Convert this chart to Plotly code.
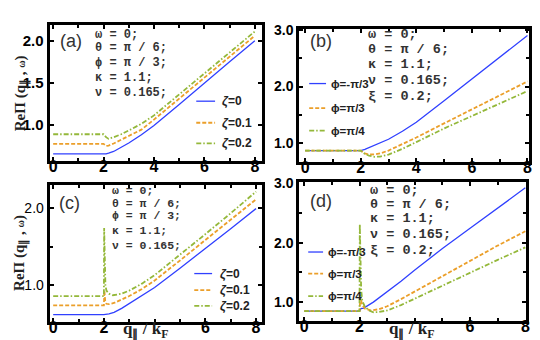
import plotly.graph_objects as go

W, H = 540, 340

# ---- data ----
# (a) zeta = 0, 0.1, 0.2
xa = [0, 1, 2, 2.1, 2.2, 2.4, 2.7, 3, 3.5, 4, 5, 6, 7, 8]
ya_z0 = [0.65, 0.65, 0.65, 0.652, 0.66, 0.68, 0.73, 0.78, 0.88, 0.99, 1.24, 1.50, 1.75, 2.00]
ya_z1 = [0.77, 0.77, 0.77, 0.745, 0.75, 0.775, 0.82, 0.86, 0.94, 1.06, 1.31, 1.56, 1.81, 2.06]
ya_z2 = [0.885, 0.885, 0.885, 0.85, 0.83, 0.85, 0.885, 0.93, 1.01, 1.11, 1.36, 1.61, 1.86, 2.11]

# (b) phi = -pi/3, pi/3, pi/4
xb = [0, 1, 2, 2.15, 2.3, 2.5, 2.7, 3, 3.5, 4, 5, 6, 7, 8]
yb_m3 = [0.87, 0.87, 0.87, 0.89, 0.92, 0.96, 1.00, 1.07, 1.21, 1.37, 1.75, 2.13, 2.52, 2.90]
yb_p3 = [0.87, 0.87, 0.87, 0.82, 0.80, 0.805, 0.82, 0.87, 0.98, 1.10, 1.35, 1.60, 1.85, 2.09]
yb_p4 = [0.87, 0.87, 0.87, 0.81, 0.78, 0.76, 0.765, 0.80, 0.90, 1.02, 1.26, 1.48, 1.70, 1.92]

# (c) zeta = 0, 0.1, 0.2
xc_z0 = [0, 2, 2.2, 2.4, 2.7, 3, 3.5, 4, 5, 6, 7, 8]
yc_z0 = [0.62, 0.62, 0.63, 0.65, 0.70, 0.76, 0.86, 0.97, 1.22, 1.47, 1.73, 1.99]
xc_z1 = [0, 2, 2.02, 2.05, 2.1, 2.2, 2.4, 2.7, 3, 3.5, 4, 5, 6, 7, 8]
yc_z1 = [0.74, 0.74, 0.93, 0.80, 0.76, 0.755, 0.77, 0.81, 0.86, 0.95, 1.06, 1.32, 1.58, 1.85, 2.11]
xc_z2 = [0, 2, 2.01, 2.03, 2.06, 2.1, 2.2, 2.35, 2.5, 2.7, 3, 3.5, 4, 5, 6, 7, 8]
yc_z2 = [0.86, 0.86, 1.74, 1.2, 1.0, 0.93, 0.89, 0.87, 0.875, 0.89, 0.93, 1.02, 1.13, 1.39, 1.66, 1.93, 2.21]

# (d) phi = -pi/3, pi/3, pi/4
xd_m3 = [0, 2, 2.05, 2.15, 2.5, 3, 3.5, 4, 5, 6, 7, 8]
yd_m3 = [0.85, 0.85, 0.89, 0.90, 1.0, 1.17, 1.35, 1.54, 1.90, 2.24, 2.58, 2.92]
xd_p3 = [0, 2, 2.03, 2.1, 2.2, 2.4, 2.7, 3, 3.5, 4, 5, 6, 7, 8]
yd_p3 = [0.85, 0.85, 1.08, 0.95, 0.89, 0.86, 0.88, 0.93, 1.05, 1.18, 1.44, 1.70, 1.95, 2.19]
xd_p4 = [0, 2, 2.01, 2.03, 2.06, 2.1, 2.2, 2.35, 2.5, 2.7, 3, 3.5, 4, 5, 6, 7, 8]
yd_p4 = [0.85, 0.85, 2.31, 1.6, 1.2, 1.02, 0.92, 0.86, 0.83, 0.835, 0.86, 0.95, 1.06, 1.28, 1.49, 1.71, 1.92]

zeta_labels = ['<i>ζ</i>=0', '<i>ζ</i>=0.1', '<i>ζ</i>=0.2']
phi_labels = ['ϕ=-π/3', 'ϕ=π/3', 'ϕ=π/4']
params_phi = ['ω = 0;', 'θ = π / 6;', 'ϕ = π / 3;', 'κ = 1.1;', 'ν = 0.165;']
params_xi = ['ω = 0;', 'θ = π / 6;', 'κ = 1.1;', 'ν = 0.165;', 'ξ = 0.2;']

BLUE, ORANGE, GREEN = '#3040ff', '#eb9f2a', '#94b83a'
STYLES = [dict(color=BLUE, width=1.3),
          dict(color=ORANGE, width=1.8, dash='4px,2px'),
          dict(color=GREEN, width=1.8, dash='5px,2px,1.5px,2px')]


def px(x):
    return x / W


def py(y):
    return 1 - y / H


fig = go.Figure()

panels = [
    ('', [(xa, ya_z0), (xa, ya_z1), (xa, ya_z2)]),
    ('2', [(xb, yb_m3), (xb, yb_p3), (xb, yb_p4)]),
    ('3', [(xc_z0, yc_z0), (xc_z1, yc_z1), (xc_z2, yc_z2)]),
    ('4', [(xd_m3, yd_m3), (xd_p3, yd_p3), (xd_p4, yd_p4)]),
]
for sfx, curves in panels:
    for (xs, ys), st in zip(curves, STYLES):
        fig.add_trace(go.Scatter(x=xs, y=ys, mode='lines', line=st,
                                 xaxis='x' + sfx, yaxis='y' + sfx,
                                 showlegend=False, hoverinfo='skip'))

# frame boxes (left, right, top, bottom in pixels) and ranges
boxes = {
    '': (41, 255, 10, 149, [-0.14, 8.27], [0.567, 2.19]),
    '2': (293, 525, 14, 150, [-0.21, 8.06], [0.67, 3.02]),
    '3': (41, 255, 174, 313, [-0.14, 8.22], [0.53, 2.29]),
    '4': (293, 522, 171, 312, [-0.18, 8.03], [0.69, 3.01]),
}

tickfont_b = dict(family='Liberation Sans', size=15, color='black', weight='bold')
minor_tk = dict(ticks='inside', ticklen=3, tickwidth=2, tickcolor='black')
layout = dict(width=W, height=H, margin=dict(l=0, r=0, t=0, b=0),
              paper_bgcolor='white', plot_bgcolor='white')

for sfx, (l, r, t, b, xr, yr) in boxes.items():
    bottom_row = sfx in ('3', '4')
    xax = dict(domain=[px(l), px(r)], range=xr, anchor='y' + sfx,
               showline=True, linewidth=3, linecolor='black', mirror='allticks',
               showgrid=False, zeroline=False,
               ticks='inside', ticklen=4, tickwidth=2, tickcolor='black',
               tickvals=[0, 2, 6, 8] if bottom_row else [0, 2, 4, 6, 8],
               tickfont=dict(tickfont_b, size=16), ticklabelstandoff=-11,
               minor=dict(minor_tk, dtick=1))
    if sfx == '':
        yt = dict(tickvals=[1.0, 1.5, 2.0], ticktext=['1.0', '1.5', '2.0'], tickfont=tickfont_b)
    elif sfx == '3':
        yt = dict(tickvals=[1.0, 2.0], ticktext=['1.0', '2.0'],
                  tickfont=dict(family='Liberation Sans', size=14, color='black'),
                  minor=dict(minor_tk, dtick=0.5))
    else:
        yt = dict(tickvals=[1.0, 2.0, 3.0], ticktext=['1.0', '2.0', '3.0'],
                  tickfont=dict(tickfont_b, size=14), minor=dict(minor_tk, dtick=0.5))
    yax = dict(domain=[py(b), py(t)], range=yr, anchor='x' + sfx,
               showline=True, linewidth=3, linecolor='black', mirror='allticks',
               showgrid=False, zeroline=False,
               ticks='inside', ticklen=4, tickwidth=2, tickcolor='black', **yt)
    layout['xaxis' + sfx] = xax
    layout['yaxis' + sfx] = yax

fig.update_layout(**layout)

ann = []
shapes = []


def note(text, x, y, size, family='Liberation Mono', weight='normal',
         xanchor='left', angle=0, color='#222'):
    ann.append(dict(text=text, x=px(x), y=py(y), xref='paper', yref='paper',
                    xanchor=xanchor, yanchor='middle', showarrow=False,
                    textangle=angle,
                    font=dict(family=family, size=size, color=color, weight=weight)))


# panel letters
for lab, x, y in [('(a)', 49, 27), ('(b)', 302, 27), ('(c)', 48, 192), ('(d)', 302, 190)]:
    note(lab, x, y, 18, family='Liberation Sans', color='#333')

# parameter blocks
for lines, x, ys, size in [
    (params_phi, 85, [20, 34, 49, 64, 80], 12),
    (params_xi, 360, [20, 35, 51, 67, 83], 13.5),
    (params_phi, 102, [179, 192, 205, 220, 235], 11.5),
    (params_xi, 362, [179, 193, 208, 224, 240], 13.5),
]:
    for txt, y in zip(lines, ys):
        note(txt, x, y, size, weight='bold', color='#333')

# legends
for labels, x0, x1, xt, ys, size in [
    (zeta_labels, 189, 208, 213, [88, 110, 131], 12),
    (phi_labels, 303, 320, 323, [70, 95, 118], 11.5),
    (zeta_labels, 187, 205, 211, [264, 281, 297], 12),
    (phi_labels, 302, 317, 320, [242, 264, 287], 11.5),
]:
    for lab, y, st in zip(labels, ys, STYLES):
        shapes.append(dict(type='line', xref='paper', yref='paper',
                           x0=px(x0), x1=px(x1), y0=py(y), y1=py(y),
                           line=dict(color=st['color'], width=st['width'],
                                     dash=st.get('dash', 'solid'))))
        note(lab, xt, y, size, family='Liberation Sans', weight='bold', color='#222')

# axis titles
ytitle = 'ReΠ (q<sub>∥</sub> , <span style="font-size:10px">ω</span>)'
note(ytitle, 12, 80, 15, family='Liberation Serif', weight='bold', xanchor='center', angle=-90)
note(ytitle, 12, 243, 15, family='Liberation Serif', weight='bold', xanchor='center', angle=-90)
xtitle = 'q<sub>∥</sub> / k<sub>F</sub>'
note(xtitle, 138, 322, 17, family='Liberation Serif', weight='bold', xanchor='center')
note(xtitle, 406, 322, 17, family='Liberation Serif', weight='bold', xanchor='center')

fig.update_layout(annotations=ann, shapes=shapes)
fig.write_html("out.html")
